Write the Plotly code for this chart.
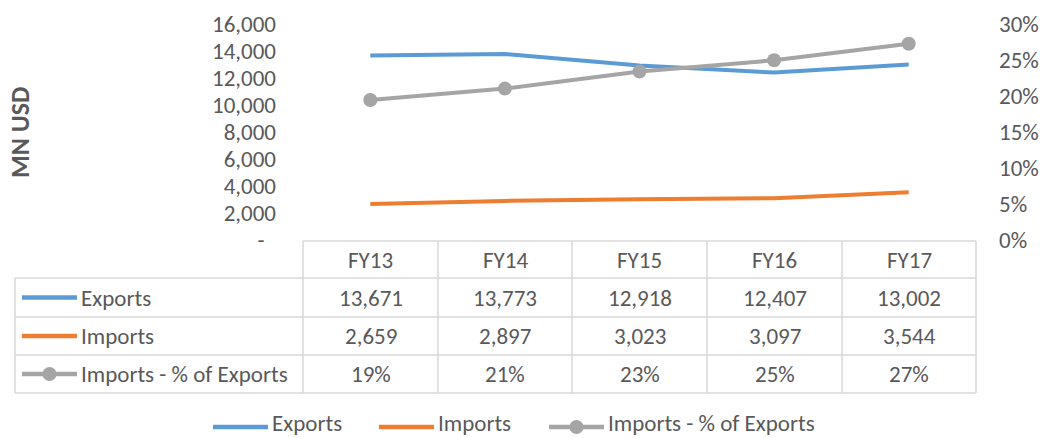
import plotly.graph_objects as go

# ---- data ----
categories = ["FY13", "FY14", "FY15", "FY16", "FY17"]
exports = [13671, 13773, 12918, 12407, 13002]
imports = [2659, 2897, 3023, 3097, 3544]
imports_pct = [0.1945, 0.2103, 0.2340, 0.2496, 0.2726]
series_names = ["Exports", "Imports", "Imports - % of Exports"]
left_tickvals = [0, 2000, 4000, 6000, 8000, 10000, 12000, 14000, 16000]
left_ticktext = ["-\u2002", "2,000", "4,000", "6,000", "8,000", "10,000", "12,000", "14,000", "16,000"]
right_tickvals = [0, 0.05, 0.10, 0.15, 0.20, 0.25, 0.30]
y_title = "MN USD"

# ---- style ----
W, H = 1040, 438
C_EXP, C_IMP, C_PCT = "#5B9BD5", "#ED7D31", "#A5A5A5"
TXT = "#595959"
GRID = "#D9D9D9"
FONT = "Carlito, Calibri, Lato, sans-serif"
FS = 23

def px(x):
    return x / W

def py(y):
    return 1 - y / H

plot_l, plot_r, plot_t, plot_b = 303, 976, 24, 240
col_edges = [303, 438, 572, 707, 842, 976]
row_edges = [241, 278, 317, 355, 393]
first_col_l = 15

fig = go.Figure()
fig.add_trace(go.Scatter(x=list(range(len(categories))), y=exports, name=series_names[0],
                         mode="lines", line=dict(color=C_EXP, width=4), yaxis="y"))
fig.add_trace(go.Scatter(x=list(range(len(categories))), y=imports, name=series_names[1],
                         mode="lines", line=dict(color=C_IMP, width=4), yaxis="y"))
fig.add_trace(go.Scatter(x=list(range(len(categories))), y=imports_pct, name=series_names[2],
                         mode="lines+markers", line=dict(color=C_PCT, width=4),
                         marker=dict(size=14, color=C_PCT), yaxis="y2"))

shapes = []
annotations = []

def hline(x0, x1, y):
    shapes.append(dict(type="line", xref="paper", yref="paper", x0=px(x0), x1=px(x1),
                       y0=py(y), y1=py(y), line=dict(color=GRID, width=1.5)))

def vline(x, y0, y1):
    shapes.append(dict(type="line", xref="paper", yref="paper", x0=px(x), x1=px(x),
                       y0=py(y0), y1=py(y1), line=dict(color=GRID, width=1.5)))

def text(x, y, s, xanchor="center", size=FS, bold=False):
    annotations.append(dict(xref="paper", yref="paper", x=px(x), y=py(y), text=("<b>%s</b>" % s) if bold else s,
                            showarrow=False, xanchor=xanchor, yanchor="middle",
                            font=dict(family=FONT, size=size, color=TXT)))

def legend_symbol(x0, x1, y, color, marker=False):
    shapes.append(dict(type="line", xref="paper", yref="paper", x0=px(x0), x1=px(x1),
                       y0=py(y), y1=py(y), line=dict(color=color, width=4.5)))
    if marker:
        cx = (x0 + x1) / 2
        r = 7
        shapes.append(dict(type="circle", xref="paper", yref="paper", x0=px(cx - r), x1=px(cx + r),
                           y0=py(y + r), y1=py(y - r), fillcolor=color, line=dict(color=color, width=0)))

# table grid
hline(col_edges[0], col_edges[-1], row_edges[0])
for y in row_edges[1:]:
    hline(first_col_l, col_edges[-1], y)
vline(first_col_l, row_edges[1], row_edges[-1])
for x in col_edges:
    vline(x, row_edges[0], row_edges[-1])

# header
centers_x = [(col_edges[i] + col_edges[i + 1]) / 2 for i in range(len(categories))]
row_cy = [(row_edges[i] + row_edges[i + 1]) / 2 for i in range(len(row_edges) - 1)]
for cx, c in zip(centers_x, categories):
    text(cx, row_cy[0], c)

rows = [
    (series_names[0], C_EXP, False, ["{:,}".format(v) for v in exports]),
    (series_names[1], C_IMP, False, ["{:,}".format(v) for v in imports]),
    (series_names[2], C_PCT, True, ["{:.0%}".format(v) for v in imports_pct]),
]
for (name, color, mk, vals), cy in zip(rows, row_cy[1:]):
    legend_symbol(22, 77, cy, color, mk)
    text(79, cy, name, xanchor="left")
    for cx, v in zip(centers_x, vals):
        text(cx, cy, v)

# bottom legend
leg_line_y = 427
leg_text_y = 423
leg_items = [(213, C_EXP, False), (379, C_IMP, False), (549, C_PCT, True)]
for (x0, color, mk), name in zip(leg_items, series_names):
    legend_symbol(x0, x0 + 55, leg_line_y, color, mk)
    text(x0 + 57, leg_text_y, name, xanchor="left")

# y-axis title
annotations.append(dict(xref="paper", yref="paper", x=px(20), y=py(133), text="<b>%s</b>" % y_title,
                        showarrow=False, textangle=-90, xanchor="center", yanchor="middle",
                        font=dict(family=FONT, size=26, color=TXT)))

fig.update_layout(
    width=W, height=H,
    margin=dict(l=0, r=0, t=0, b=0),
    paper_bgcolor="white", plot_bgcolor="white",
    showlegend=False,
    font=dict(family=FONT, size=FS, color=TXT),
    xaxis=dict(domain=[px(plot_l), px(plot_r)], range=[-0.5, len(categories) - 0.5],
               showticklabels=False, showgrid=False, zeroline=False, showline=False,
               ticks="", fixedrange=True, automargin=False),
    yaxis=dict(domain=[py(plot_b), py(plot_t)], range=[0, 16000],
               tickvals=left_tickvals, ticktext=left_ticktext,
               showgrid=False, zeroline=False, showline=False, ticks="",
               ticklabelstandoff=26, automargin=False,
               tickfont=dict(family=FONT, size=FS, color=TXT)),
    yaxis2=dict(domain=[py(plot_b), py(plot_t)], range=[0, 0.30], overlaying="y", side="right",
                tickvals=right_tickvals, tickformat=".0%",
                showgrid=False, zeroline=False, showline=False, ticks="",
                ticklabelstandoff=22, automargin=False,
                tickfont=dict(family=FONT, size=FS, color=TXT)),
    shapes=shapes,
    annotations=annotations,
)

fig.write_html("out.html", config={"displayModeBar": False},
               post_script="document.body.style.margin='0';document.body.style.overflow='hidden';")
